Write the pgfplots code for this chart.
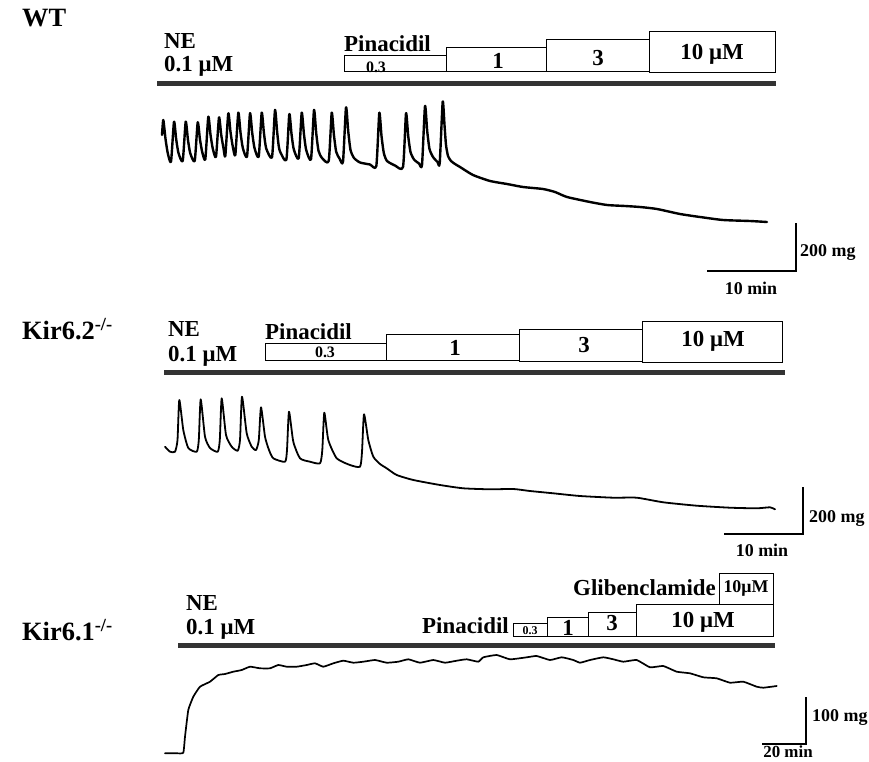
\documentclass[border=0pt]{standalone}
\usepackage{fontspec}
\setmainfont{Liberation Serif}
\usepackage{pgfplots}
\pgfplotsset{compat=1.18}
\tikzset{
  trace/.style={black, line width=2.1bp, line join=round, line cap=round, smooth, tension=0.35},
  bar/.style={black!80, line width=5bp},
  box/.style={black, line width=1bp, fill=white},
  sbar/.style={black, line width=1.3bp},
  lab/.style={font=\bfseries\fontsize{23}{26}\selectfont, inner sep=0pt},
  big/.style={font=\bfseries\fontsize{26.5}{30}\selectfont, inner sep=0pt},
  small/.style={font=\bfseries\fontsize{18}{21}\selectfont, inner sep=0pt},
}
\begin{document}
\begin{tikzpicture}
\begin{axis}[
  width=869bp, height=762bp, scale only axis,
  xmin=0, xmax=869, ymin=0, ymax=762, y dir=reverse,
  hide axis, clip=false,
  every axis plot/.append style={mark=none},
]
\addplot[draw=none] coordinates {(0,0) (869,762)};

% ================= WT =================
\addplot[bar] coordinates {(157,84) (776,84)};
\addplot[box] coordinates {(344,56) (446,56) (446,72) (344,72) (344,56)};
\addplot[box] coordinates {(446,48) (546,48) (546,72) (446,72) (446,48)};
\addplot[box] coordinates {(546,40) (649,40) (649,72) (546,72) (546,40)};
\addplot[box] coordinates {(649,32) (775,32) (775,73) (649,73) (649,32)};
\addplot[trace, line width=2.4bp] coordinates {
(162,135) (163.3,120) (165.5,138.8) (167.8,153.4) (171,161.7)
(174,121.7) (176.2,139.4) (178.5,153.1) (182.7,161)
(185.7,121.7) (187.9,139.4) (190.2,153.1) (194.7,161)
(197.7,122.3) (199.9,139) (202.2,151.9) (205.3,159.3)
(208.3,116.7) (210.5,134.7) (212.8,148.7) (216,156.7)
(219,117.3) (221.2,134.7) (223.5,148.3) (225.3,156)
(228.3,113.3) (230.5,132) (232.8,146.7) (235.3,155)
(238.3,112.7) (240.5,132.5) (242.8,147.9) (247,156.7)
(250,113.3) (252.2,132.8) (254.5,148) (258.7,156.7)
(261.7,112.7) (263.9,132.8) (266.2,148.4) (272,157.3)
(275,110) (277.2,132.5) (279.5,150) (286.3,160)
(289.3,114) (291.5,133.9) (293.8,149.4) (298.7,158.3)
(301.7,112.7) (303.9,133.7) (306.2,150) (311,159.3)
(314,110) (316.2,133) (318.5,150.8) (322,158) (328.7,161)
(331.7,112.7) (333.9,134.8) (336.2,151.9) (339.5,158.5) (343,161.7)
(346,107.3) (348.2,131) (350.5,150) (354,158) (360,162.5) (370,164.5) (376.3,166)
(379.3,112.7) (381.5,136) (383.8,153) (387,161) (395,165.5) (403,167)
(406,113.3) (408.2,136) (410.5,152) (414,159.5) (419,163.5) (422,165)
(425,106) (427.2,131) (429.5,149) (433,157) (437.5,162) (439.7,163.3)
(442.7,101.7) (444.5,125) (446,145) (448,156) (451,161) (455,164)
(460,167) (473,175) (490,181) (507,184) (523,187) (543,189) (555,192)
(567,197) (590,202) (607,205) (625,206) (640,207) (657,209) (680,214)
(700,217) (723,220) (750,221) (767,222)
};
\addplot[sbar] coordinates {(707,271) (796,271) (796,223)};
\node[big, anchor=west] at (axis cs:22,18) {WT};
\node[lab, anchor=west] at (axis cs:164,41) {NE};
\node[lab, anchor=west] at (axis cs:164,66) {0.1 μM};
\node[lab, anchor=west] at (axis cs:344,44) {Pinacidil};
\node[font=\bfseries\fontsize{16}{18}\selectfont, inner sep=0pt] at (axis cs:376,67) {0.3};
\node[lab] at (axis cs:498,61) {1};
\node[lab] at (axis cs:598,58) {3};
\node[lab] at (axis cs:712,54) {10 μM};
\node[small, anchor=west] at (axis cs:800,253) {200 mg};
\node[small] at (axis cs:751,288) {10 min};

% ================= Kir6.2 =================
\addplot[bar] coordinates {(164,372) (785,372)};
\addplot[box] coordinates {(265,343) (386,343) (386,360) (265,360) (265,343)};
\addplot[box] coordinates {(386,334) (519,334) (519,360) (386,360) (386,334)};
\addplot[box] coordinates {(519,329) (642,329) (642,361) (519,361) (519,329)};
\addplot[box] coordinates {(642,321) (782,321) (782,362) (642,362) (642,321)};
\addplot[trace, line width=1.8bp] coordinates {
(165,446.7) (170,451.7) (175,451.7) (177.5,440) (179.3,400) (183.3,430) (188.3,448) (196.7,451.7)
(198.8,440) (200.7,399.3) (205,436.7) (210,448) (217.7,451.7)
(219.8,440) (221.7,398.3) (226,435) (231.7,446.7) (237.7,450.7)
(240,440) (242,396.7) (246.7,433.3) (251.7,446.7) (256,450)
(258.8,440) (261,407.3) (265,436.7) (269,450) (273.3,458.3) (285,461.7)
(287,450) (289,411.7) (293.3,441.7) (300,458.3) (310,461.7) (320,463.3)
(322.3,450) (324.3,412.7) (328.3,440) (336.7,458.3) (350,465) (360,466.7)
(362,452) (364,414.3) (368.3,440) (373.3,456.7) (380,464) (386.7,468.3)
(396.7,475) (413.3,480) (440,485) (463.3,488.3) (490,489.3) (513.3,489)
(530,491) (553.3,493.3) (580,496) (613.3,497.7) (636.7,497.7) (663.3,502.3)
(696.7,505.7) (730,507.7) (756.7,508.3) (770,507.3) (775,509.3)
};
\addplot[sbar] coordinates {(724,534) (803,534) (803,487)};
\node[big, anchor=west] at (axis cs:22,329) {Kir6.2\textsuperscript{-/-}};
\node[lab, anchor=west] at (axis cs:168,329) {NE};
\node[lab, anchor=west] at (axis cs:168,356) {0.1 μM};
\node[lab, anchor=west] at (axis cs:265,332) {Pinacidil};
\node[font=\bfseries\fontsize{16}{18}\selectfont, inner sep=0pt] at (axis cs:325,352) {0.3};
\node[lab] at (axis cs:455,348) {1};
\node[lab] at (axis cs:584,345) {3};
\node[lab] at (axis cs:713,341) {10 μM};
\node[small, anchor=west] at (axis cs:809,519) {200 mg};
\node[small] at (axis cs:762,550) {10 min};

% ================= Kir6.1 =================
\addplot[bar] coordinates {(178,645) (775,645)};
\addplot[box] coordinates {(513,623) (547,623) (547,636) (513,636) (513,623)};
\addplot[box] coordinates {(547,617) (588,617) (588,636) (547,636) (547,617)};
\addplot[box] coordinates {(588,612) (636,612) (636,636) (588,636) (588,612)};
\addplot[box] coordinates {(636,604) (773,604) (773,636) (636,636) (636,604)};
\addplot[box] coordinates {(719,573) (773,573) (773,604) (719,604) (719,573)};
\addplot[trace, line width=1.7bp, tension=0.25] coordinates {
(165,753.3) (176.7,753.3) (183.3,752.7) (185,736.7) (188.3,710) (193.3,696.7)
(200,686.7) (210,681.7) (218.3,675) (225,674) (233.3,671.7) (241.7,670)
(250,666.7) (260,668.3) (270,668.3) (278.3,665) (286.7,666.7) (296.7,666.7)
(306.7,665) (315,663.3) (323.3,666.7) (333.3,663.3) (343.3,660.7) (353.3,662.7)
(363.3,661.7) (375,660) (386.7,662.7) (398.3,661.7) (408.3,659.3) (420,662.7)
(433.3,660) (445,662.7) (456.7,660.7) (466.7,659.3) (478.3,661.7)
(483.3,657.3) (496.7,655) (510,659.3) (526.7,657.3) (536.7,656) (550,660)
(561.7,657.3) (573.3,660) (580,662.7) (590,660) (603.3,657.3) (613.3,659.3)
(623.3,661.7) (636.7,660) (650,667.3) (663.3,666) (676.7,671.7) (690,673.3)
(703.3,677.3) (716.7,678.3) (730,682.7) (743.3,681.7) (756.7,686.7)
(763.3,687.7) (776.7,686)
};
\addplot[sbar] coordinates {(762,744) (806,744) (806,697)};
\node[big, anchor=west] at (axis cs:22,630) {Kir6.1\textsuperscript{-/-}};
\node[lab, anchor=west] at (axis cs:186,603) {NE};
\node[lab, anchor=west] at (axis cs:186,629) {0.1 μM};
\node[lab, anchor=east] at (axis cs:509,626) {Pinacidil};
\node[font=\bfseries\fontsize{12}{14}\selectfont, inner sep=0pt] at (axis cs:530,631) {0.3};
\node[lab] at (axis cs:568,628) {1};
\node[lab] at (axis cs:612,623) {3};
\node[lab] at (axis cs:703,622) {10 μM};
\node[lab, anchor=east] at (axis cs:716,588) {Glibenclamide};
\node[small] at (axis cs:746,588) {10μM};
\node[small, anchor=west] at (axis cs:812,718) {100 mg};
\node[font=\bfseries\fontsize{17}{20}\selectfont, inner sep=0pt, anchor=south] at (axis cs:788,758) {20 min};
\end{axis}
\end{tikzpicture}
\end{document}
